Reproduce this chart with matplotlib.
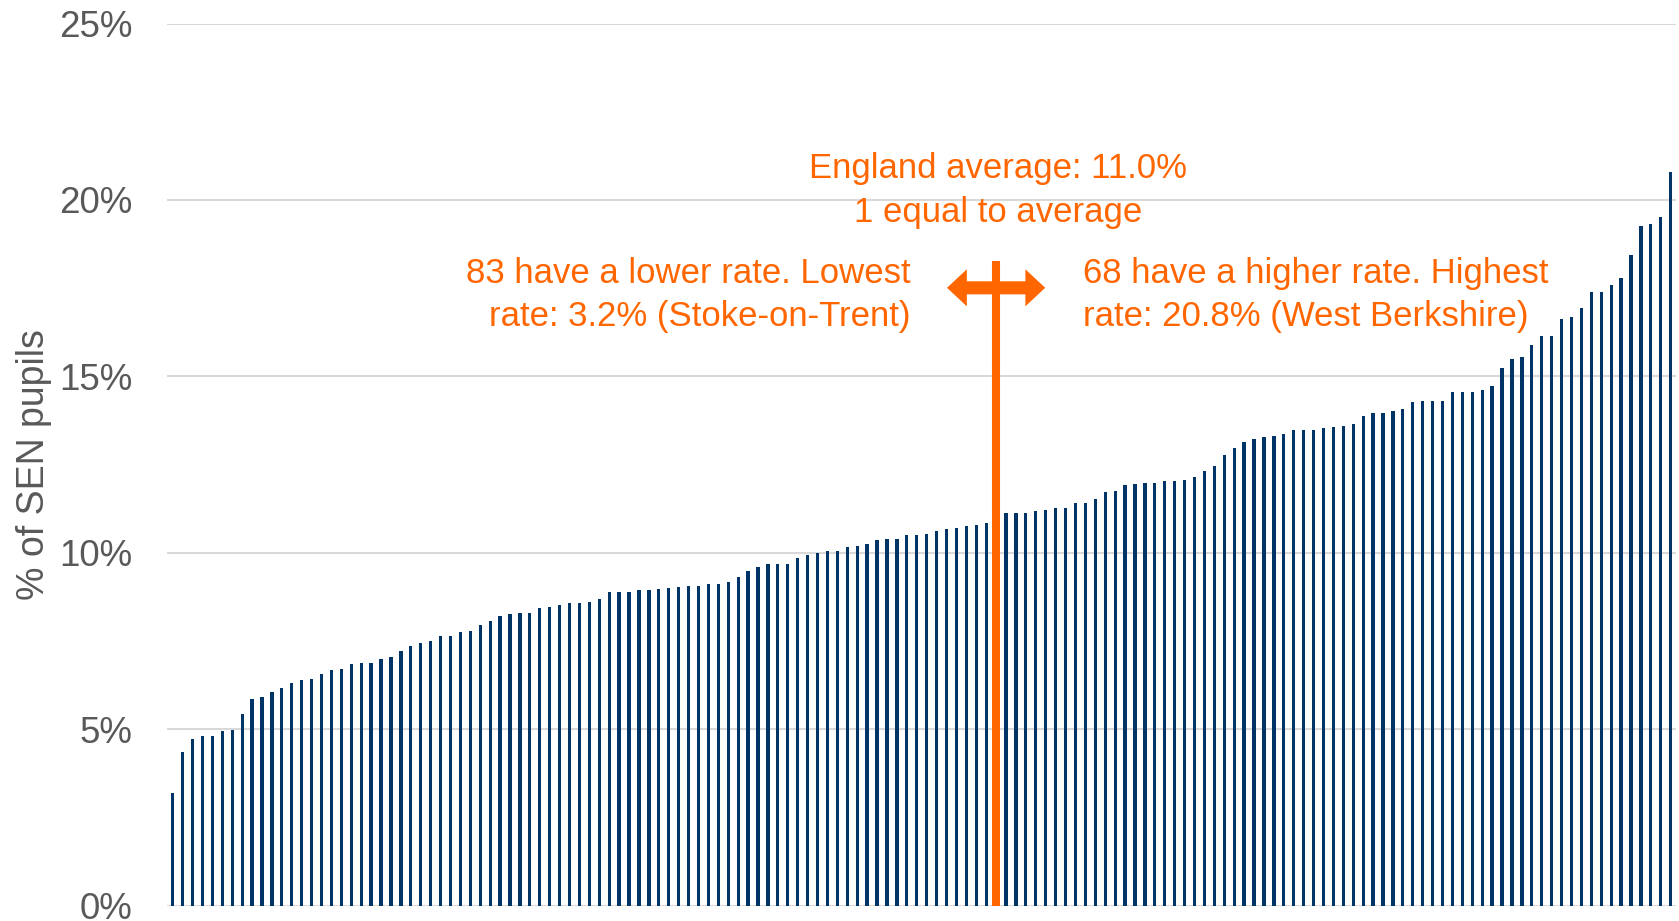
import matplotlib
matplotlib.use("Agg")
import matplotlib.pyplot as plt
from matplotlib.patches import FancyArrow

# SEN rate per local authority, sorted low to high
lower_rates = [
    3.2, 4.35, 4.73, 4.81, 4.81, 4.95, 4.98, 5.42, 5.85, 5.90,
    6.05, 6.16, 6.31, 6.38, 6.43, 6.55, 6.68, 6.70, 6.85, 6.88,
    6.88, 6.98, 7.05, 7.22, 7.36, 7.45, 7.49, 7.65, 7.65, 7.76,
    7.78, 7.95, 8.06, 8.20, 8.27, 8.29, 8.30, 8.43, 8.46, 8.52,
    8.57, 8.58, 8.59, 8.70, 8.89, 8.89, 8.89, 8.94, 8.95, 8.97,
    9.00, 9.04, 9.06, 9.07, 9.11, 9.12, 9.17, 9.32, 9.47, 9.60,
    9.68, 9.69, 9.69, 9.86, 9.93, 10.00, 10.06, 10.06, 10.15, 10.19,
    10.25, 10.36, 10.38, 10.40, 10.51, 10.51, 10.53, 10.63, 10.67, 10.71,
    10.76, 10.79, 10.85,
]
england_average = 11.0
higher_rates = [
    11.13, 11.13, 11.13, 11.18, 11.21, 11.26, 11.27, 11.42, 11.42, 11.51,
    11.71, 11.75, 11.93, 11.94, 11.97, 11.99, 12.03, 12.04, 12.07, 12.16,
    12.32, 12.46, 12.77, 12.97, 13.14, 13.23, 13.28, 13.32, 13.37, 13.48,
    13.48, 13.48, 13.54, 13.56, 13.60, 13.64, 13.88, 13.96, 13.96, 14.03,
    14.08, 14.28, 14.29, 14.31, 14.31, 14.56, 14.57, 14.57, 14.60, 14.72,
    15.25, 15.50, 15.55, 15.89, 16.15, 16.15, 16.64, 16.67, 16.93, 17.40,
    17.40, 17.59, 17.79, 18.43, 19.27, 19.33, 19.53, 20.8,
]
y_ticks = [0, 5, 10, 15, 20, 25]
y_tick_labels = ["0%", "5%", "10%", "15%", "20%", "25%"]

BLUE = "#003366"
ORANGE = "#FF6600"
GREY = "#595959"

plt.rcParams["font.family"] = ["Liberation Sans", "DejaVu Sans"]

rates = lower_rates + [england_average] + higher_rates
avg_idx = len(lower_rates)
positions = list(range(len(rates)))

fig = plt.figure(figsize=(16.79, 9.21), dpi=100)
ax = fig.add_axes([0.0995, 0.0168, 0.8985, 0.9576])

# blue bars, the one equal to the average in orange
ax.bar(positions, rates, width=0.33, color=BLUE, zorder=2)
ax.bar([avg_idx], [england_average], width=0.8, color=ORANGE, zorder=3)

# pointer line above the average bar with a double arrow
pointer_top = 18.26
ax.vlines(avg_idx, england_average, pointer_top, color=ORANGE, lw=5.8,
          capstyle="butt", zorder=3)
for dx in (-4.95, 4.95):
    ax.add_patch(FancyArrow(avg_idx, 17.51, dx, 0, width=0.37, head_width=1.05,
                            head_length=2.0, length_includes_head=True,
                            color=ORANGE, lw=0, zorder=4))

ax.text(83.2, 20.27, "England average: 11.0%\n1 equal to average",
        ha="center", va="center", fontsize=25, color=ORANGE, linespacing=1.4)
ax.text(74.4, 17.3, "83 have a lower rate. Lowest\nrate: 3.2% (Stoke-on-Trent)",
        ha="right", va="center", multialignment="right", fontsize=25,
        color=ORANGE, linespacing=1.4)
ax.text(91.8, 17.3, "68 have a higher rate. Highest\nrate: 20.8% (West Berkshire)",
        ha="left", va="center", multialignment="left", fontsize=25,
        color=ORANGE, linespacing=1.4)

ax.set_xlim(-0.57, len(rates) - 0.5)
ax.set_ylim(0, 25)
ax.set_yticks(y_ticks)
ax.set_yticklabels(y_tick_labels)
ax.set_xticks([])
ax.tick_params(axis="y", length=0, pad=25, labelsize=26.5, labelcolor=GREY)
ax.yaxis.grid(True, color="#D9D9D9", lw=1.5, zorder=0)
ax.set_axisbelow(True)
for side in ["left", "right", "top", "bottom"]:
    ax.spines[side].set_visible(False)

ax.set_ylabel("% of SEN pupils", fontsize=27, color=GREY)
ax.yaxis.set_label_coords(-0.076, 0.5)

fig.savefig("out.png", dpi=100)
